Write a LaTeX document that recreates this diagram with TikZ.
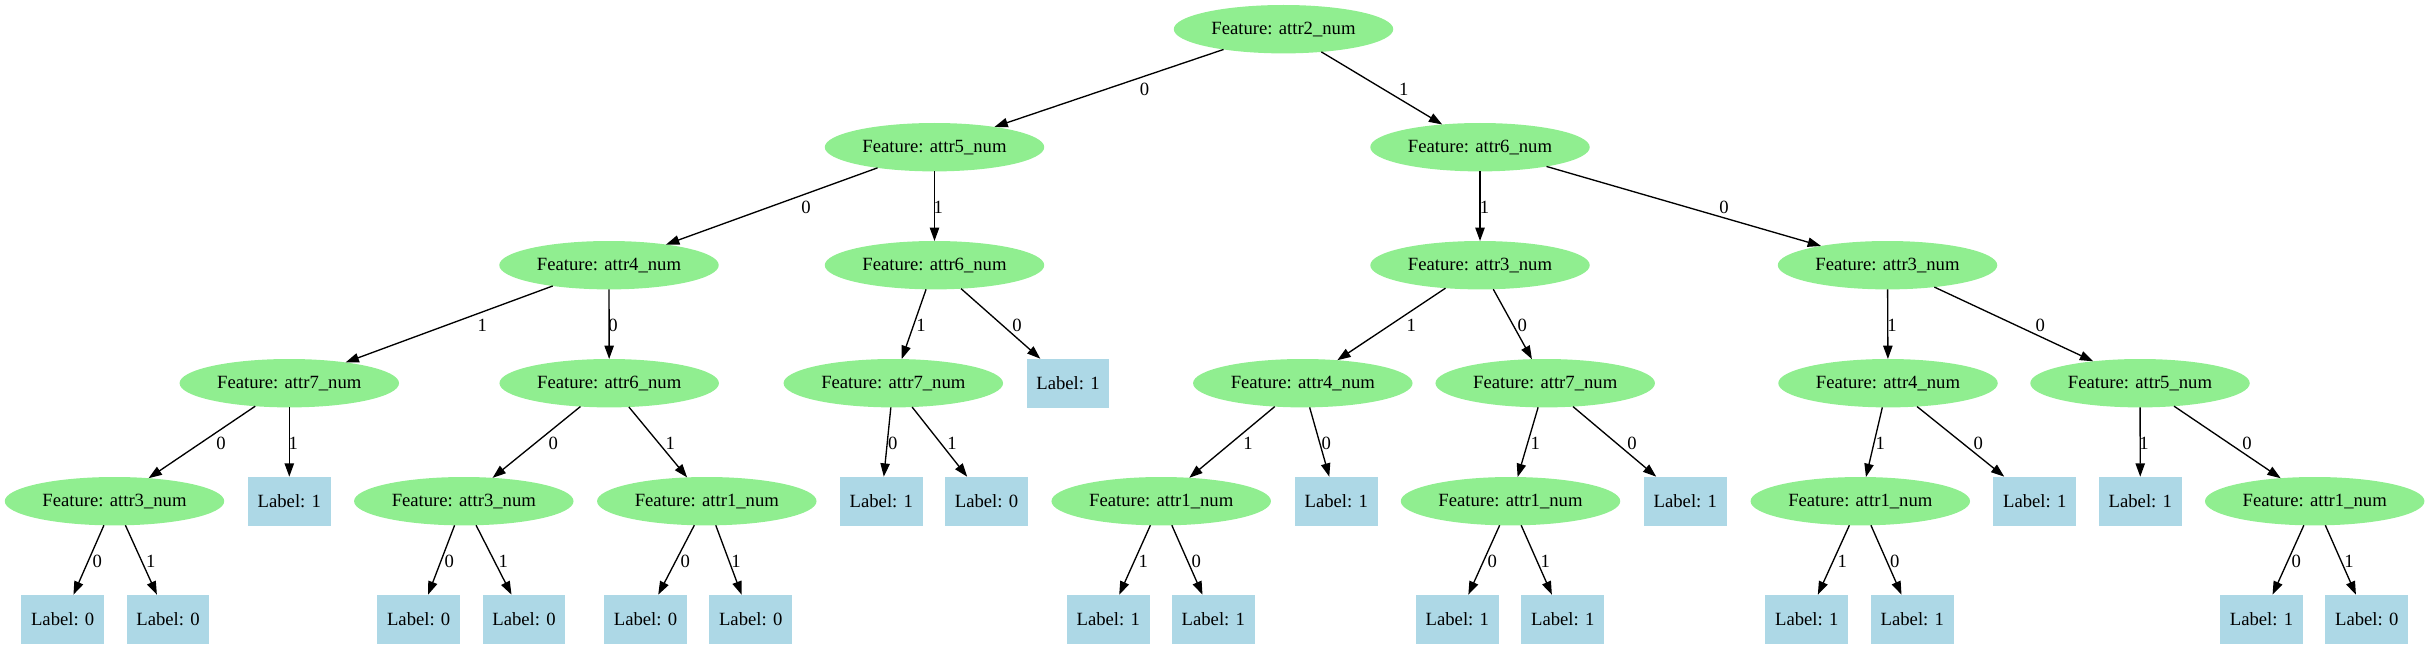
\documentclass[tikz,border=0pt]{standalone}
\usepackage{fontspec}
\setmainfont{Liberation Serif}
\usetikzlibrary{arrows.meta,shapes.geometric}
\definecolor{featgreen}{HTML}{90EE90}
\definecolor{leafblue}{HTML}{ADD8E6}
\tikzset{
  txt/.style={font=\fontsize{14}{16}\selectfont},
  feat/.style={txt, ellipse, fill=featgreen, minimum width=164.6pt, minimum height=36.3pt, inner sep=0pt, outer sep=0pt},
  leaf/.style={txt, rectangle, fill=leafblue, minimum width=62pt, minimum height=36.75pt, inner sep=0pt, outer sep=0pt},
  arr/.style={draw=black, line width=1pt, -{Triangle[length=10pt,width=7pt]}},
  elab/.style={txt, inner sep=0pt}
}
\newcommand\ed[5]{\draw[arr] (#1) -- (#2); \node[elab] (lab-#2) at (#3,#4) {#5};}
\begin{document}
\begin{tikzpicture}[x=0.75pt,y=-0.75pt]
\useasboundingbox (0,0) rectangle (2429,649);
% level 0
\node[feat] (n0) at (1283.5,29.2) {Feature: attr2\_num};
% level 1
\node[feat] (a) at (934.5,147.2) {Feature: attr5\_num};
\node[feat] (b) at (1480,147.2) {Feature: attr6\_num};
% level 2
\node[feat] (aa) at (609,265.2) {Feature: attr4\_num};
\node[feat] (ab) at (934.5,265.2) {Feature: attr6\_num};
\node[feat] (ba) at (1480,265.2) {Feature: attr3\_num};
\node[feat] (bb) at (1887.5,265.2) {Feature: attr3\_num};
% level 3
\node[feat] (aaa) at (289.3,383.2) {Feature: attr7\_num};
\node[feat] (aab) at (609.2,383.2) {Feature: attr6\_num};
\node[feat] (aba) at (893.3,383.2) {Feature: attr7\_num};
\node[leaf] (abb) at (1068,383.2) {Label: 1};
\node[feat] (baa) at (1302.8,383.2) {Feature: attr4\_num};
\node[feat] (bab) at (1545.2,383.2) {Feature: attr7\_num};
\node[feat] (bba) at (1888,383.2) {Feature: attr4\_num};
\node[feat] (bbb) at (2140,383.2) {Feature: attr5\_num};
% level 4
\node[feat] (aaaa) at (114.5,501.2) {Feature: attr3\_num};
\node[leaf] (aaab) at (289.3,501.2) {Label: 1};
\node[feat] (aaba) at (463.8,501.2) {Feature: attr3\_num};
\node[feat] (aabb) at (706.8,501.2) {Feature: attr1\_num};
\node[leaf] (abaa) at (881.3,501.2) {Label: 1};
\node[leaf] (abab) at (986.5,501.2) {Label: 0};
\node[feat] (baaa) at (1161.2,501.2) {Feature: attr1\_num};
\node[leaf] (baab) at (1336.2,501.2) {Label: 1};
\node[feat] (baba) at (1510.5,501.2) {Feature: attr1\_num};
\node[leaf] (babb) at (1685.3,501.2) {Label: 1};
\node[feat] (bbaa) at (1860.3,501.2) {Feature: attr1\_num};
\node[leaf] (bbab) at (2034.7,501.2) {Label: 1};
\node[leaf] (bbba) at (2140.3,501.2) {Label: 1};
\node[feat] (bbbb) at (2314.7,501.2) {Feature: attr1\_num};
% level 5
\node[leaf] (aaaaa) at (62.7,619.2) {Label: 0};
\node[leaf] (aaaab) at (168,619.2) {Label: 0};
\node[leaf] (aabaa) at (418.7,619.2) {Label: 0};
\node[leaf] (aabab) at (524,619.2) {Label: 0};
\node[leaf] (aabba) at (645.5,619.2) {Label: 0};
\node[leaf] (aabbb) at (750.7,619.2) {Label: 0};
\node[leaf] (baaaa) at (1108.2,619.2) {Label: 1};
\node[leaf] (baaab) at (1213.3,619.2) {Label: 1};
\node[leaf] (babaa) at (1457.3,619.2) {Label: 1};
\node[leaf] (babab) at (1562.7,619.2) {Label: 1};
\node[leaf] (bbaaa) at (1806.7,619.2) {Label: 1};
\node[leaf] (bbaab) at (1912.3,619.2) {Label: 1};
\node[leaf] (bbbba) at (2261.5,619.2) {Label: 1};
\node[leaf] (bbbbb) at (2366.7,619.2) {Label: 0};
% edges
\ed{n0}{a}{1144.5}{89.3}{0}
\ed{n0}{b}{1403.8}{89.3}{1}
\ed{a}{aa}{806}{207.3}{0}
\ed{a}{ab}{938.4}{207.3}{1}
\ed{b}{ba}{1484.4}{207.3}{1}
\ed{b}{bb}{1724}{207.3}{0}
\ed{aa}{aaa}{482.3}{325.7}{1}
\ed{aa}{aab}{613}{325.7}{0}
\ed{ab}{aba}{921}{325.7}{1}
\ed{ab}{abb}{1017}{325.7}{0}
\ed{ba}{baa}{1411.3}{325.7}{1}
\ed{ba}{bab}{1522.3}{325.7}{0}
\ed{bb}{bba}{1892}{325.7}{1}
\ed{bb}{bbb}{2040.3}{325.7}{0}
\ed{aaa}{aaaa}{221}{443}{0}
\ed{aaa}{aaab}{293.3}{443}{1}
\ed{aab}{aaba}{553.3}{443}{0}
\ed{aab}{aabb}{670.3}{443}{1}
\ed{aba}{abaa}{892.7}{443}{0}
\ed{aba}{abab}{952}{443}{1}
\ed{baa}{baaa}{1248}{443}{1}
\ed{baa}{baab}{1326.3}{443}{0}
\ed{bab}{baba}{1535.3}{443}{1}
\ed{bab}{babb}{1632}{443}{0}
\ed{bba}{bbaa}{1880.3}{443}{1}
\ed{bba}{bbab}{1978.3}{443}{0}
\ed{bbb}{bbba}{2144}{443}{1}
\ed{bbb}{bbbb}{2247}{443}{0}
\ed{aaaa}{aaaaa}{97.3}{561.3}{0}
\ed{aaaa}{aaaab}{150.7}{561.3}{1}
\ed{aaba}{aabaa}{449.3}{561.3}{0}
\ed{aaba}{aabab}{503.3}{561.3}{1}
\ed{aabb}{aabba}{685.3}{561.3}{0}
\ed{aabb}{aabbb}{736}{561.3}{1}
\ed{baaa}{baaaa}{1143.3}{561.3}{1}
\ed{baaa}{baaab}{1196.3}{561.3}{0}
\ed{baba}{babaa}{1492.3}{561.3}{0}
\ed{baba}{babab}{1545.3}{561.3}{1}
\ed{bbaa}{bbaaa}{1842.3}{561.3}{1}
\ed{bbaa}{bbaab}{1894.7}{561.3}{0}
\ed{bbbb}{bbbba}{2296.3}{561.3}{0}
\ed{bbbb}{bbbbb}{2349}{561.3}{1}
\end{tikzpicture}
\end{document}
